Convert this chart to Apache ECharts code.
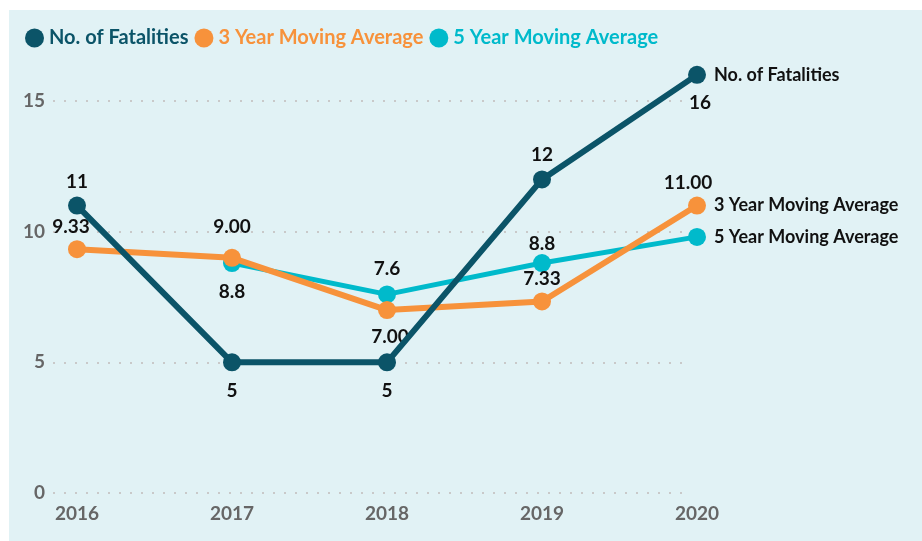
<!DOCTYPE html>
<html>
<head>
<meta charset="utf-8">
<title>Fatalities</title>
<script src="https://cdn.jsdelivr.net/npm/echarts@6/dist/echarts.min.js"></script>
<style>
  html, body { margin: 0; padding: 0; background: #ffffff; }
  #chart { width: 922px; height: 541px; }
</style>
</head>
<body>
<div id="chart"></div>
<script>
// data
var years = ['2016', '2017', '2018', '2019', '2020'];
var fatalities = [11, 5, 5, 12, 16];
var avg3 = [9.33, 9.00, 7.00, 7.33, 11.00];
var avg5 = [null, 8.8, 7.6, 8.8, 9.8];
var yTicks = [0, 5, 10, 15];

var names = ['No. of Fatalities', '3 Year Moving Average', '5 Year Moving Average'];
var colors = ['#0b5468', '#f7923b', '#00bacb'];

// where each value label sits: [position, distance, dx] ; null = no label
var fatalLabels = [['top', 5, 0], ['bottom', 10, 0], ['bottom', 10, 0], ['top', 6, 0], ['bottom', 10, 3]];
var avg3Labels = [['top', 4, -6], ['top', 12, 0], ['bottom', 8, 3], ['top', 4, 0], ['top', 4, -9]];
var avg5Labels = [null, ['bottom', 10, 0], ['top', 7, 0], ['top', 1, 0], null];

var FONT = 'Lato, "DejaVu Sans", sans-serif';

function buildData(values, labels, digits) {
  return values.map(function (v, i) {
    var l = labels[i];
    if (v === null) return null;
    if (!l) return { value: v, label: { show: false } };
    return {
      value: v,
      label: {
        show: true,
        position: l[0],
        distance: l[1],
        offset: [l[2], 0],
        formatter: function () { return v.toFixed(digits); }
      }
    };
  });
}

function lineSeries(idx, data, width, z) {
  return {
    name: names[idx],
    type: 'line',
    xAxisIndex: 1,
    yAxisIndex: 1,
    data: data,
    clip: false,
    z: z,
    symbol: 'circle',
    symbolSize: 18,
    showSymbol: true,
    color: colors[idx],
    lineStyle: { width: width, color: colors[idx] },
    itemStyle: { color: colors[idx] },
    label: {
      color: '#111',
      fontFamily: FONT,
      fontWeight: 'bold',
      fontSize: 19
    },
    endLabel: {
      show: true,
      formatter: '{a}',
      color: '#111',
      fontFamily: FONT,
      fontWeight: 'bold',
      fontSize: 18,
      distance: 17
    },
    emphasis: { disabled: true },
    animation: false
  };
}

var chart = echarts.init(document.getElementById('chart'));

chart.setOption({
  backgroundColor: '#ffffff',
  textStyle: { fontFamily: FONT },
  graphic: [{
    type: 'rect',
    z: -10,
    silent: true,
    shape: { x: 9, y: 10, width: 913, height: 531 },
    style: { fill: '#e1f2f5' }
  }],
  legend: {
    left: 20,
    top: 23,
    icon: 'circle',
    itemWidth: 19,
    itemHeight: 19,
    itemGap: 6,
    selectedMode: false,
    textStyle: { fontFamily: FONT, fontWeight: 'bold', fontSize: 20 },
    data: names.map(function (n, i) {
      return { name: n, textStyle: { color: colors[i] } };
    })
  },
  grid: [
    { left: 53, right: 238, top: 101, bottom: 48 },
    { left: 77, right: 225, top: 101, bottom: 48 }
  ],
  xAxis: [
    { type: 'category', gridIndex: 0, data: years, show: false },
    {
      type: 'category',
      gridIndex: 1,
      data: years,
      boundaryGap: false,
      axisLine: { show: false },
      axisTick: { show: false },
      splitLine: { show: false },
      axisLabel: {
        color: '#666',
        fontFamily: FONT,
        fontWeight: 'bold',
        fontSize: 19,
        margin: 11
      }
    }
  ],
  yAxis: [
    {
      type: 'value',
      gridIndex: 0,
      min: yTicks[0],
      max: yTicks[yTicks.length - 1],
      interval: 5,
      axisLine: { show: false },
      axisTick: { show: false },
      axisLabel: {
        color: '#666',
        fontFamily: FONT,
        fontWeight: 'bold',
        fontSize: 19,
        margin: 8
      },
      splitLine: {
        show: true,
        lineStyle: { color: '#c9c9c9', width: 2, type: [2, 9] }
      }
    },
    {
      type: 'value',
      gridIndex: 1,
      min: yTicks[0],
      max: yTicks[yTicks.length - 1],
      interval: 5,
      show: false,
      splitLine: { show: false }
    }
  ],
  series: [
    lineSeries(2, buildData(avg5, avg5Labels, 1), 5, 2),
    lineSeries(1, buildData(avg3, avg3Labels, 2), 6, 3),
    lineSeries(0, buildData(fatalities, fatalLabels, 0), 6, 4)
  ]
});
</script>
</body>
</html>
